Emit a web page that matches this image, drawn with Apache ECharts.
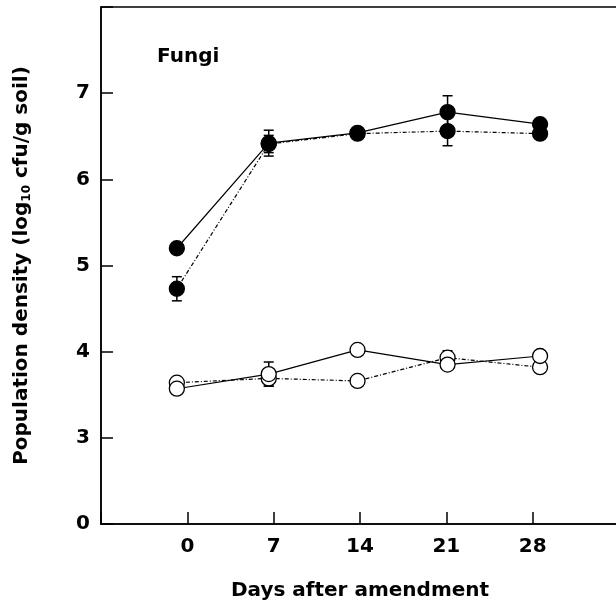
<!DOCTYPE html>
<html>
<head>
<meta charset="utf-8">
<script src="https://cdn.jsdelivr.net/npm/echarts@6/dist/echarts.min.js"></script>
<style>
  html, body { margin: 0; padding: 0; background: #fff; }
  #chart { width: 616px; height: 610px; }
</style>
</head>
<body>
<div id="chart"></div>
<script>
  // day positions as plotted (points sit slightly off the ticks)
  const xPos = [-0.85, 6.6, 13.8, 21.1, 28.6]
  const xTicks = [0, 7, 14, 21, 28]
  // y axis is broken: the "0" label sits where 2 would be
  const yTicks = [2, 3, 4, 5, 6, 7]
  const yTickLabels = ['0', '3', '4', '5', '6', '7']

  // filled circles
  const amendSolid = [5.20, 6.42, 6.54, 6.78, 6.64]
  const amendSolidErr = [0.04, 0.15, 0.03, 0.19, 0.06]
  const amendDotted = [4.73, 6.41, 6.53, 6.56, 6.53]
  const amendDottedErr = [0.14, 0.10, 0.03, 0.17, 0.06]
  // open circles
  const ctrlSolid = [3.57, 3.74, 4.02, 3.85, 3.95]
  const ctrlSolidErr = [0.04, 0.14, 0.03, 0.05, 0.04]
  const ctrlDotted = [3.64, 3.69, 3.66, 3.93, 3.82]
  const ctrlDottedErr = [0.04, 0.09, 0.03, 0.08, 0.04]

  const FONT = 'DejaVu Sans'
  const dashDot = [4, 2, 1, 2]

  const pairs = (ys) => ys.map((y, i) => [xPos[i], y])
  const errData = (ys, es) => ys.map((y, i) => [xPos[i], y - es[i], y + es[i]])

  const lineSeries = (data, filled, dotted) => ({
    type: 'line',
    data: pairs(data),
    symbol: 'circle',
    symbolSize: 15,
    z: 3,
    lineStyle: { color: '#000', width: 1.2, type: dotted ? dashDot : 'solid' },
    itemStyle: { color: filled ? '#000' : '#fff', borderColor: '#000', borderWidth: 1.3 },
    animation: false
  })

  const errSeries = (data, es) => ({
    type: 'custom',
    data: errData(data, es),
    z: 2,
    renderItem(params, api) {
      const lo = api.coord([api.value(0), api.value(1)])
      const hi = api.coord([api.value(0), api.value(2)])
      const w = 5
      const st = { stroke: '#000', lineWidth: 1.5 }
      return {
        type: 'group',
        children: [
          { type: 'line', shape: { x1: hi[0], y1: hi[1], x2: lo[0], y2: lo[1] }, style: st },
          { type: 'line', shape: { x1: hi[0] - w, y1: hi[1], x2: hi[0] + w, y2: hi[1] }, style: st },
          { type: 'line', shape: { x1: lo[0] - w, y1: lo[1], x2: lo[0] + w, y2: lo[1] }, style: st }
        ]
      }
    },
    animation: false
  })

  const chart = echarts.init(document.getElementById('chart'))
  chart.setOption({
    backgroundColor: '#fff',
    grid: {
      left: 101, top: 7, width: 518, height: 517,
      outerBoundsMode: 'none',
      show: true, borderColor: '#000', borderWidth: 1.5
    },
    xAxis: {
      type: 'value',
      min: -7,
      max: 35,
      interval: 7,
      splitLine: { show: false },
      axisLine: { onZero: false, lineStyle: { color: '#000', width: 1.5 } },
      axisTick: { inside: true, length: 12, lineStyle: { color: '#000', width: 1.5 } },
      axisLabel: {
        margin: 13,
        color: '#000',
        fontFamily: FONT,
        fontWeight: 'bold',
        fontSize: 20,
        formatter: v => (xTicks.indexOf(v) >= 0 ? String(v) : '')
      },
      name: 'Days after amendment',
      nameLocation: 'middle',
      nameGap: 57,
      nameTextStyle: { color: '#000', fontFamily: FONT, fontWeight: 'bold', fontSize: 20 }
    },
    yAxis: {
      type: 'value',
      min: 2,
      max: 8,
      interval: 1,
      splitLine: { show: false },
      axisLine: { onZero: false, lineStyle: { color: '#000', width: 1.5 } },
      axisTick: { inside: true, length: 12, lineStyle: { color: '#000', width: 1.5 } },
      axisLabel: {
        margin: 11,
        color: '#000',
        fontFamily: FONT,
        fontWeight: 'bold',
        fontSize: 20,
        formatter: v => {
          const i = yTicks.indexOf(v)
          return i >= 0 ? yTickLabels[i] : ''
        }
      },
      name: '{a|Population density (log}{s|10}{a| cfu/g soil)}',
      nameLocation: 'middle',
      nameRotate: 90,
      nameGap: 68,
      nameTextStyle: {
        color: '#000',
        rich: {
          a: { fontFamily: FONT, fontWeight: 'bold', fontSize: 20, color: '#000' },
          s: { fontFamily: FONT, fontWeight: 'bold', fontSize: 12, color: '#000', padding: [10, 0, 0, 0] }
        }
      }
    },
    graphic: [{
      type: 'text',
      left: 157,
      top: 47,
      style: { text: 'Fungi', fill: '#000', font: 'bold 20px "DejaVu Sans"' }
    }],
    series: [
      errSeries(amendSolid, amendSolidErr),
      errSeries(amendDotted, amendDottedErr),
      errSeries(ctrlSolid, ctrlSolidErr),
      errSeries(ctrlDotted, ctrlDottedErr),
      lineSeries(amendDotted, true, true),
      lineSeries(amendSolid, true, false),
      lineSeries(ctrlDotted, false, true),
      lineSeries(ctrlSolid, false, false)
    ]
  })
</script>
</body>
</html>
